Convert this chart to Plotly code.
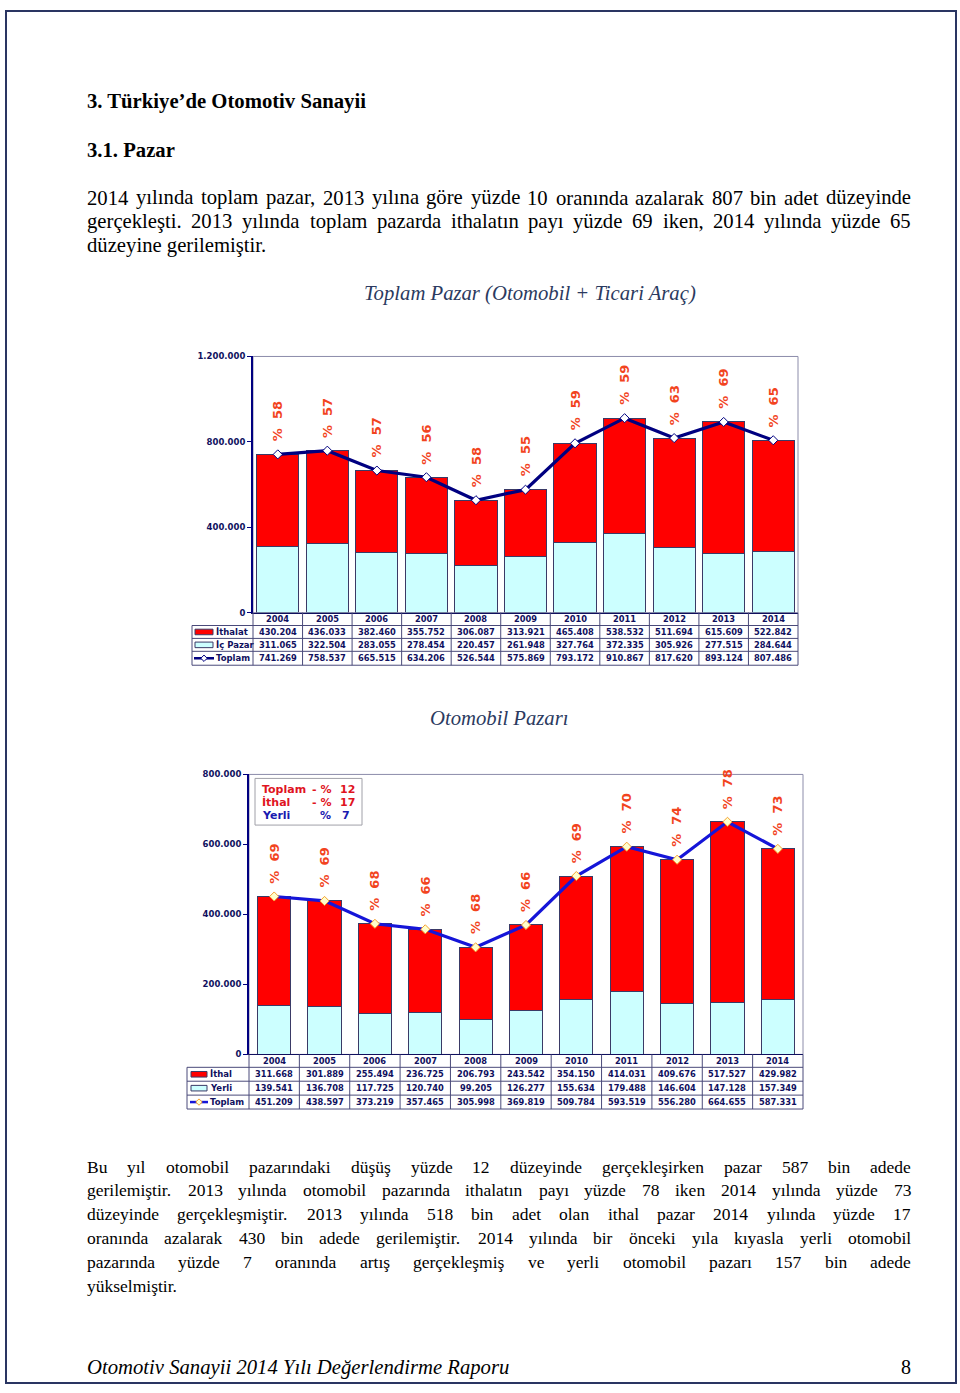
import plotly.graph_objects as go

# ---------------- data ----------------
years = ["2004", "2005", "2006", "2007", "2008", "2009", "2010", "2011", "2012", "2013", "2014"]

tp_ithalat = [430204, 436033, 382460, 355752, 306087, 313921, 465408, 538532, 511694, 615609, 522842]
tp_icpazar = [311065, 322504, 283055, 278454, 220457, 261948, 327764, 372335, 305926, 277515, 284644]
tp_toplam = [741269, 758537, 665515, 634206, 526544, 575869, 793172, 910867, 817620, 893124, 807486]
tp_share = [58, 57, 57, 56, 58, 55, 59, 59, 63, 69, 65]
tp_yticks = [0, 400000, 800000, 1200000]
tp_labels = ["İthalat", "İç Pazar", "Toplam"]

ot_ithal = [311668, 301889, 255494, 236725, 206793, 243542, 354150, 414031, 409676, 517527, 429982]
ot_yerli = [139541, 136708, 117725, 120740, 99205, 126277, 155634, 179488, 146604, 147128, 157349]
ot_toplam = [451209, 438597, 373219, 357465, 305998, 369819, 509784, 593519, 556280, 664655, 587331]
ot_share = [69, 69, 68, 66, 68, 66, 69, 70, 74, 78, 73]
ot_yticks = [0, 200000, 400000, 600000, 800000]
ot_labels = ["İthal", "Yerli", "Toplam"]

summary_names = ["Toplam", "İthal", "Yerli"]
summary_signs = ["- %", "- %", "%"]
summary_values = ["12", "17", "7"]

heading1 = "3. Türkiye’de Otomotiv Sanayii"
heading2 = "3.1. Pazar"
para1 = [
    "2014 yılında toplam pazar, 2013 yılına göre yüzde 10 oranında azalarak 807 bin adet düzeyinde",
    "gerçekleşti. 2013 yılında toplam pazarda ithalatın payı yüzde 69 iken, 2014 yılında yüzde 65",
    "düzeyine gerilemiştir.",
]
caption1 = "Toplam Pazar (Otomobil + Ticari Araç)"
caption2 = "Otomobil Pazarı"
para2 = [
    "Bu yıl otomobil pazarındaki düşüş yüzde 12 düzeyinde gerçekleşirken pazar 587 bin adede",
    "gerilemiştir. 2013 yılında otomobil pazarında ithalatın payı yüzde 78 iken 2014 yılında yüzde 73",
    "düzeyinde gerçekleşmiştir. 2013 yılında 518 bin adet olan ithal pazar 2014 yılında yüzde 17",
    "oranında azalarak 430 bin adede gerilemiştir. 2014 yılında bir önceki yıla kıyasla yerli otomobil",
    "pazarında yüzde 7 oranında artış gerçekleşmiş ve yerli otomobil pazarı 157 bin adede",
    "yükselmiştir.",
]
footer = "Otomotiv Sanayii 2014 Yılı Değerlendirme Raporu"
page_no = "8"

# ---------------- helpers ----------------
W, H = 960, 1393


def X(px):
    return px / W


def Y(py):
    return 1 - py / H


NAVY = "#10105E"
RED = "#FF0000"
CYAN = "#CCFFFF"
BAROUT = "#3A3A66"
TBL = "#4A4A7A"
PCT = "#F2441E"
SERIF = "Liberation Serif"
SANS = "DejaVu Sans"

# Times (Liberation Serif) advance widths, per 1000 em
TW = {" ": 250, ",": 250, ".": 250, "’": 333, "(": 333, ")": 333, "+": 564}
for c in "0123456789":
    TW[c] = 500
TW.update(dict(a=444, b=500, c=444, d=500, e=444, f=333, g=500, h=500, i=278, j=278, k=500, l=278,
               m=778, n=500, o=500, p=500, q=500, r=333, s=389, t=278, u=500, v=500, w=722, x=500,
               y=500, z=444))
TW.update({"ı": 278, "ş": 389, "ç": 444, "ğ": 500, "ö": 500, "ü": 500, "B": 667, "İ": 333})


def tw(word, size):
    return sum(TW.get(ch, 500) for ch in word) / 1000.0 * size


def fmt(v):
    return f"{v:,}".replace(",", ".")


annotations = []
shapes = []


def text(px, py, s, size, family=SERIF, color="black", xanchor="left", **kw):
    annotations.append(dict(x=X(px), y=Y(py), xref="paper", yref="paper", text=s, showarrow=False,
                            xanchor=xanchor, yanchor="middle", borderpad=0, borderwidth=0,
                            font=dict(family=family, size=size, color=color), **kw))


def justified(lines, y0, dy, size, left=87, right=911):
    for i, line in enumerate(lines):
        y = y0 + i * dy
        if i == len(lines) - 1:
            text(left, y, line, size)
            continue
        words = line.split()
        widths = [tw(w, size) for w in words]
        gap = (right - left - sum(widths)) / (len(words) - 1)
        xx = left
        for w, wd in zip(words, widths):
            text(xx, y, w, size)
            xx += wd + gap


def hline(x0, x1, y, color=TBL, width=1):
    shapes.append(dict(type="line", xref="paper", yref="paper", x0=X(x0), x1=X(x1), y0=Y(y), y1=Y(y),
                       line=dict(color=color, width=width)))


def vline(x, y0, y1, color=TBL, width=1):
    shapes.append(dict(type="line", xref="paper", yref="paper", x0=X(x), x1=X(x), y0=Y(y0), y1=Y(y1),
                       line=dict(color=color, width=width)))


def data_table(xref, left, pl, pr, edges, labels, series, line_color, mk_fill, mk_line, key_x0, key_x1, lab_x):
    top, r1, r2, r3, bot = edges
    for yy in (r1, r2, r3, bot):
        hline(left, pr, yy)
    vline(left, r1, bot)
    vline(pl, top, bot)
    vline(pr, top, bot)
    for i in range(len(years) - 1):
        shapes.append(dict(type="line", xref=xref, yref="paper", x0=i + 0.5, x1=i + 0.5,
                           y0=Y(top), y1=Y(bot), line=dict(color=TBL, width=1)))
    rows = [(top + r1) / 2, (r1 + r2) / 2, (r2 + r3) / 2, (r3 + bot) / 2]
    for j, yr in enumerate(years):
        annotations.append(dict(x=j, y=Y(rows[0]), xref=xref, yref="paper", text="<b>%s</b>" % yr,
                                showarrow=False, xanchor="center", yanchor="middle", borderpad=0,
                                font=dict(family=SANS, size=8.3, color=NAVY)))
        for k in range(3):
            annotations.append(dict(x=j, y=Y(rows[k + 1]), xref=xref, yref="paper",
                                    text="<b>%s</b>" % fmt(series[k][j]), showarrow=False,
                                    xanchor="center", yanchor="middle", borderpad=0,
                                    font=dict(family=SANS, size=8.3, color=NAVY)))
    for k in range(3):
        text(lab_x, rows[k + 1], "<b>%s</b>" % labels[k], 8.5, family=SANS, color=NAVY)
    # legend keys
    yk = rows[1]
    shapes.append(dict(type="rect", xref="paper", yref="paper", x0=X(key_x0), x1=X(key_x1),
                       y0=Y(yk + 2.8), y1=Y(yk - 2.8), fillcolor=RED, line=dict(color=BAROUT, width=1)))
    yk = rows[2]
    shapes.append(dict(type="rect", xref="paper", yref="paper", x0=X(key_x0), x1=X(key_x1),
                       y0=Y(yk + 2.8), y1=Y(yk - 2.8), fillcolor=CYAN, line=dict(color=BAROUT, width=1)))
    yk = rows[3]
    hline(key_x0 - 1, key_x1 + 1, yk, color=line_color, width=2.5)
    cx = (key_x0 + key_x1) / 2
    d = 3.2
    path = "M %f %f L %f %f L %f %f L %f %f Z" % (X(cx - d), Y(yk), X(cx), Y(yk - d), X(cx + d), Y(yk),
                                                X(cx), Y(yk + d))
    shapes.append(dict(type="path", xref="paper", yref="paper", path=path, fillcolor=mk_fill,
                       line=dict(color=mk_line, width=1)))


# ---------------- figure ----------------
fig = go.Figure()

# chart 1: Toplam Pazar
fig.add_trace(go.Bar(x=years, y=tp_icpazar, width=0.85, marker=dict(color=CYAN, line=dict(color=BAROUT, width=1)),
                     xaxis="x", yaxis="y", hoverinfo="skip"))
fig.add_trace(go.Bar(x=years, y=tp_ithalat, width=0.85, marker=dict(color=RED, line=dict(color=BAROUT, width=1)),
                     xaxis="x", yaxis="y", hoverinfo="skip"))
fig.add_trace(go.Scatter(x=years, y=tp_toplam, mode="lines+markers", xaxis="x", yaxis="y",
                         line=dict(color="#000080", width=3.2),
                         marker=dict(symbol="diamond", size=7, color="#FFFFFF", line=dict(color="#000080", width=1))))

# chart 2: Otomobil Pazarı
fig.add_trace(go.Bar(x=years, y=ot_yerli, width=0.66, marker=dict(color=CYAN, line=dict(color=BAROUT, width=1)),
                     xaxis="x2", yaxis="y2", hoverinfo="skip"))
fig.add_trace(go.Bar(x=years, y=ot_ithal, width=0.66, marker=dict(color=RED, line=dict(color=BAROUT, width=1)),
                     xaxis="x2", yaxis="y2", hoverinfo="skip"))
fig.add_trace(go.Scatter(x=years, y=ot_toplam, mode="lines+markers", xaxis="x2", yaxis="y2",
                         line=dict(color="#1515D8", width=3.2),
                         marker=dict(symbol="diamond", size=7, color="#FFFFCC", line=dict(color="#F5A030", width=1))))

PCT_SIZE = 13
for j, (tot, sh) in enumerate(zip(tp_toplam, tp_share)):
    annotations.append(dict(x=j, y=tot, xref="x", yref="y", text="<b>%\u00a0\u00a0" + str(sh) + "</b>",
                            textangle=-90, showarrow=False, xanchor="center", yanchor="bottom", yshift=12,
                            borderpad=0, font=dict(family=SANS, size=PCT_SIZE, color=PCT)))
for j, (tot, sh) in enumerate(zip(ot_toplam, ot_share)):
    annotations.append(dict(x=j, y=tot, xref="x2", yref="y2", text="<b>%\u00a0\u00a0" + str(sh) + "</b>",
                            textangle=-90, showarrow=False, xanchor="center", yanchor="bottom", yshift=12,
                            borderpad=0, font=dict(family=SANS, size=PCT_SIZE, color=PCT)))

# plot-area borders
for xr, yr_ in (("x", "y"), ("x2", "y2")):
    shapes.append(dict(type="rect", xref=xr + " domain", yref=yr_ + " domain", x0=0, x1=1, y0=0, y1=1,
                       line=dict(color="#8C8CAA", width=1), layer="below"))

# tables
data_table("x", 192, 253, 798, [612, 625, 638, 651, 665], tp_labels, [tp_ithalat, tp_icpazar, tp_toplam],
           "#000080", "#FFFFFF", "#000080", 195, 213, 216)
data_table("x2", 187, 249, 803, [1057, 1070, 1084, 1098, 1112], ot_labels, [ot_ithal, ot_yerli, ot_toplam],
           "#1515D8", "#FFFFCC", "#F5A030", 191, 207, 210)

# summary box in chart 2
shapes.append(dict(type="rect", xref="paper", yref="paper", x0=X(255), x1=X(362), y0=Y(826), y1=Y(779),
                   fillcolor="white", line=dict(color="#A0A0A8", width=1)))
for k, (nm, sg, vl) in enumerate(zip(summary_names, summary_signs, summary_values)):
    col = "#E0141E" if k < 2 else "#1A1AB0"
    yy = 790 + 13 * k
    text(262, yy, "<b>%s</b>" % nm, 11, family=SANS, color=col)
    text(331, yy, "<b>%s</b>" % sg, 11, family=SANS, color=col, xanchor="right")
    text(340 if k < 2 else 342, yy, "<b>%s</b>" % vl, 11, family=SANS, color=col)

# page text
text(87, 97, "<b>%s</b>" % heading1, 20.7)
text(87, 146, "<b>%s</b>" % heading2, 20.7)
justified(para1, 194, 24, 20.7)
text(530, 291, "<i>%s</i>" % caption1, 20.7, color="#2B3A60", xanchor="center")
text(499, 718, "<i>%s</i>" % caption2, 20.7, color="#2B3A60", xanchor="center")
justified(para2, 1170, 24, 17.5)
text(87, 1372, "<i>%s</i>" % footer, 20.7, xanchor="left")
text(911, 1372, page_no, 20, xanchor="right")

# page border
shapes.append(dict(type="rect", xref="paper", yref="paper", x0=X(6), x1=X(956), y0=Y(1388), y1=Y(6),
                   line=dict(color="#2A3562", width=2)))

axis_common = dict(type="category", showticklabels=False, ticks="", showgrid=False, zeroline=False,
                   showline=True, linecolor=NAVY, linewidth=1, range=[-0.5, 10.5], fixedrange=True)
yaxis_common = dict(showgrid=False, zeroline=False, showline=True, linecolor="#000080", linewidth=2,
                    ticks="outside", ticklen=4, tickwidth=1, tickcolor="#000080", tickformat=",d",
                    tickfont=dict(family=SANS, size=8.5, color=NAVY, weight="bold"), fixedrange=True)

fig.update_layout(
    width=W, height=H, autosize=False,
    margin=dict(l=0, r=0, t=0, b=0, pad=0),
    paper_bgcolor="white", plot_bgcolor="white",
    showlegend=False, barmode="stack", separators=",.",
    xaxis=dict(domain=[X(253), X(798)], anchor="y", **axis_common),
    yaxis=dict(domain=[Y(612), Y(354)], anchor="x", range=[0, 1200000], tickvals=tp_yticks, **yaxis_common),
    xaxis2=dict(domain=[X(249), X(803)], anchor="y2", **axis_common),
    yaxis2=dict(domain=[Y(1057), Y(775)], anchor="x2", range=[0, 800000], tickvals=ot_yticks, **yaxis_common),
    annotations=annotations,
    shapes=shapes,
)

fig.write_html("out.html", config={"displayModeBar": False},
               post_script="document.body.style.margin='0';document.body.style.overflow='hidden';")
